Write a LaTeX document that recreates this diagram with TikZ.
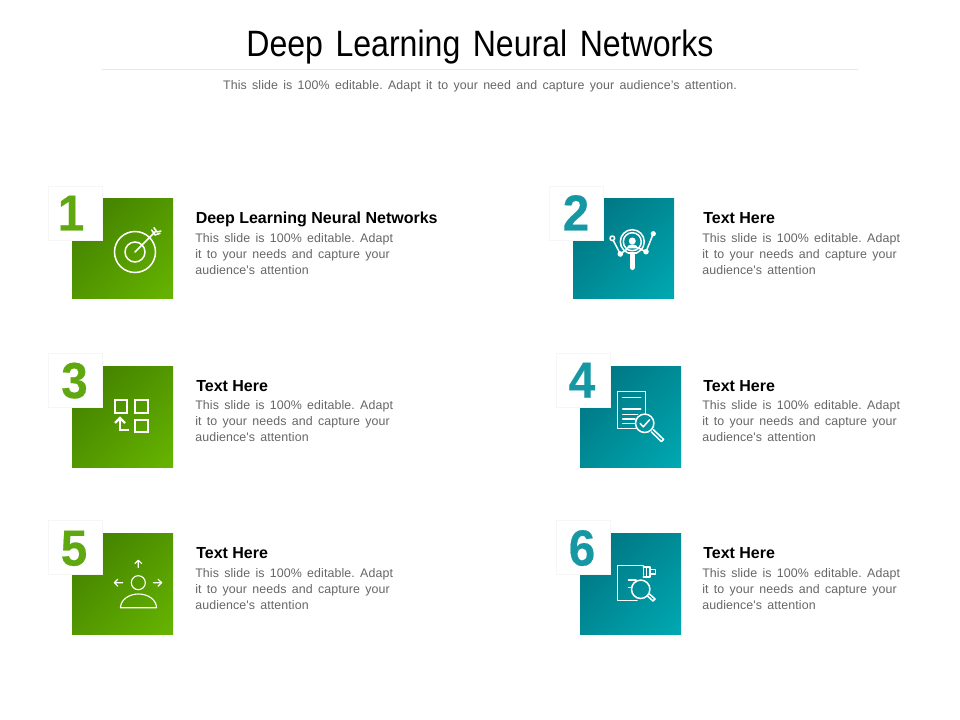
\documentclass[tikz,border=0pt]{standalone}
\usepackage{fontspec}
\setmainfont{Liberation Sans}
\newfontfamily\titlefont[FakeStretch=0.875,WordSpace=1.4]{Liberation Sans}
\newfontfamily\bodyfont[WordSpace=1.5,LetterSpace=0.8]{Liberation Sans}
\newfontfamily\headfont{Liberation Sans}
\newfontfamily\numfont[BoldFeatures={FakeBold=0.35,FakeStretch=0.94}]{Liberation Sans}
\frenchspacing
\definecolor{gdark}{HTML}{3F7A00}
\definecolor{glight}{HTML}{66B500}
\definecolor{gnum}{HTML}{5FA80F}
\definecolor{tdark}{HTML}{006F7C}
\definecolor{tlight}{HTML}{00A9B2}
\definecolor{tnum}{HTML}{1598A4}
\definecolor{bodygray}{HTML}{666666}
\definecolor{rulegray}{HTML}{E8E8E8}
\definecolor{frame}{HTML}{F6F6F6}
\pgfdeclareverticalshading{greendiag}{100bp}{color(0bp)=(glight); color(14.6bp)=(glight); color(85.4bp)=(gdark); color(100bp)=(gdark)}
\pgfdeclareverticalshading{tealdiag}{100bp}{color(0bp)=(tlight); color(14.6bp)=(tlight); color(85.4bp)=(tdark); color(100bp)=(tdark)}
\tikzset{
  x=0.75pt,y=-0.75pt,
  numbox/.style={draw=frame,fill=white,line width=0.5pt},
  greenbox/.style={shading=greendiag,shading angle=45},
  tealbox/.style={shading=tealdiag,shading angle=45},
  numtext/.style={font=\numfont\fontsize{38}{38}\selectfont\bfseries,inner sep=0pt,anchor=base},
  headtext/.style={font=\headfont\fontsize{12}{14}\selectfont\bfseries,text=black,anchor=base west,inner sep=0pt},
  bodytext/.style={font=\bodyfont\fontsize{9.3}{12}\selectfont,text=bodygray,anchor=north west,inner sep=0pt,align=left},
  icon/.style={draw=white,line width=1.15pt,fill=none,line cap=round,line join=round},
  thinicon/.style={draw=white,line width=0.85pt,fill=none,line cap=round,line join=round},
  boldicon/.style={draw=white,line width=1.6pt,fill=none,line join=miter},
  dot/.style={fill=white,draw=none}
}
\newcommand{\para}{This slide is 100\% editable. Adapt\\it to your needs and capture your\\audience's attention}
\begin{document}
\begin{tikzpicture}
\useasboundingbox (0,0) rectangle (960,720);
\fill[white] (0,0) rectangle (960,720);

% header
\node[font=\titlefont\fontsize{27.5}{30}\selectfont,text=black,inner sep=0pt,anchor=base] (title) at (480,56.5) {Deep Learning Neural Networks};
\coordinate (ruleL) at (102,70); \coordinate (ruleR) at (858,70);
\draw[rulegray,line width=0.75pt] (ruleL) -- (ruleR);
\node[font=\bodyfont\fontsize{9.3}{12}\selectfont,text=bodygray,inner sep=0pt,anchor=base] (sub) at (480,89.5) {This slide is 100\% editable. Adapt it to your need and capture your audience’s attention.};

% squares
\shade[greenbox] (72,199) rectangle (173,299);
\shade[tealbox] (573,199) rectangle (674,299);
\shade[greenbox] (72,366) rectangle (173,467);
\shade[tealbox] (580,366) rectangle (681,467);
\shade[greenbox] (72,533) rectangle (173,634);
\shade[tealbox] (580,533) rectangle (681,634);

\draw[numbox] (48,186) rectangle (102,240);
\draw[numbox] (549,186) rectangle (603,240);
\draw[numbox] (48,353) rectangle (102,407);
\draw[numbox] (556,353) rectangle (610,407);
\draw[numbox] (48,520) rectangle (102,574);
\draw[numbox] (556,520) rectangle (610,574);

\node[numtext,text=gnum] (n1) at (71,230.5) {1};
\node[numtext,text=tnum] (n2) at (576,230.5) {2};
\node[numtext,text=gnum] (n3) at (74.5,398) {3};
\node[numtext,text=tnum] (n4) at (582,397.5) {4};
\node[numtext,text=gnum] (n5) at (74,565.5) {5};
\node[numtext,text=tnum] (n6) at (582,565.5) {6};

% texts
\node[headtext] (h1) at (195.5,224) {Deep Learning Neural Networks};
\node[bodytext] (b1) at (195,233.5) {\para};
\node[headtext] (h2) at (703,224) {Text Here};
\node[bodytext] (b2) at (702,233.5) {\para};
\node[headtext] (h3) at (196,391) {Text Here};
\node[bodytext] (b3) at (195,400.5) {\para};
\node[headtext] (h4) at (703,391) {Text Here};
\node[bodytext] (b4) at (702,400.5) {\para};
\node[headtext] (h5) at (196,558) {Text Here};
\node[bodytext] (b5) at (195,568.5) {\para};
\node[headtext] (h6) at (703,558) {Text Here};
\node[bodytext] (b6) at (702,568.5) {\para};

% icon 1: target
\draw[icon] (135,252) circle[radius=20.5];
\draw[icon] (135,252) circle[radius=10];
\draw[icon] (135,252) -- (156,231);
\draw[icon] (151.7,230) -- (155,235) -- (160,233.3);
\draw[icon] (154,227.7) -- (157,232) -- (161,231);

% icon 2: search person
\draw[icon] (632.3,241.7) circle[radius=12];
\draw[icon] (632.3,241.7) circle[radius=9];
\fill[dot] (632.3,241) circle[radius=3.5];
\fill[dot] (626.5,248.5) arc[start angle=180,end angle=360,x radius=5.8,y radius=4] -- cycle;
\draw[white,line width=3.8pt,line cap=round] (632.3,255) -- (632.3,267.5);
\fill[dot] (628,252) rectangle (636.6,254.5);
\draw[icon] (612.3,238.3) circle[radius=2.3];
\draw[icon] (613.3,240.5) -- (620.3,254) -- (627.3,249);
\fill[dot] (620.3,254) circle[radius=2.8];
\fill[dot] (653.3,233.7) circle[radius=2.6];
\draw[icon] (653.3,233.7) -- (646,251.7) -- (637.7,247.7);
\fill[dot] (646,251.7) circle[radius=2.8];

% icon 3: squares
\draw[boldicon] (115,400) rectangle (127.3,412.7);
\draw[boldicon] (135,400) rectangle (148.3,412.7);
\draw[boldicon] (135,420) rectangle (148.3,432.3);
\draw[boldicon] (129.3,430) -- (120,430) -- (120,419);
\draw[boldicon] (115,423) -- (120,418) -- (125,423);

% icon 4: document
\draw[icon] (645.7,413) -- (645.7,391.7) -- (617.7,391.7) -- (617.7,428.3) -- (636,428.3);
\draw[icon] (622.7,397.3) -- (640.7,397.3);
\draw[icon] (622.7,409) -- (640.7,409);
\draw[icon] (622.7,414.3) -- (637.5,414.3);
\draw[icon] (622.7,419) -- (635,419);
\draw[icon] (622.7,423.3) -- (634.5,423.3);
\draw[icon] (644.7,423.3) circle[radius=9.2];
\draw[icon] (640.2,423.5) -- (643.3,426.8) -- (649.5,419.8);
\draw[icon] (651.3,431.8) -- (661.3,441.6) -- (663.6,439.4) -- (653.4,429.7);

% icon 5: person
\draw[thinicon] (138.3,582.7) circle[radius=7];
\draw[thinicon] (120.5,607.7) arc[start angle=180,end angle=360,x radius=18,y radius=13.7] -- cycle;
\draw[thinicon] (138.3,567.5) -- (138.3,560.5) (135,563.5) -- (138.3,560.2) -- (141.6,563.5);
\draw[thinicon] (122.7,582.7) -- (114.5,582.7) (117.8,579.2) -- (114.3,582.7) -- (117.8,586.2);
\draw[thinicon] (153.3,582.7) -- (161.5,582.7) (158,579.2) -- (161.7,582.7) -- (158,586.2);

% icon 6: doc search
\draw[icon] (643.3,575) -- (643.3,565.7) -- (617.7,565.7) -- (617.7,600.7) -- (637,600.7);
\draw[icon] (643.3,567) -- (650,567) -- (650,577) -- (643.3,577);
\draw[icon] (650,569.3) -- (655.7,569.3) -- (655.7,574) -- (650,574);
\draw[icon] (646.5,567) -- (646.5,577);
\draw[icon] (628.5,580) -- (636,580);
\draw[icon] (628.5,587.3) -- (631.5,587.3);
\draw[icon] (640.7,589.3) circle[radius=9.2];
\draw[icon] (647.5,596) -- (653,601) -- (655,599) -- (649.5,594);
\end{tikzpicture}
\end{document}
